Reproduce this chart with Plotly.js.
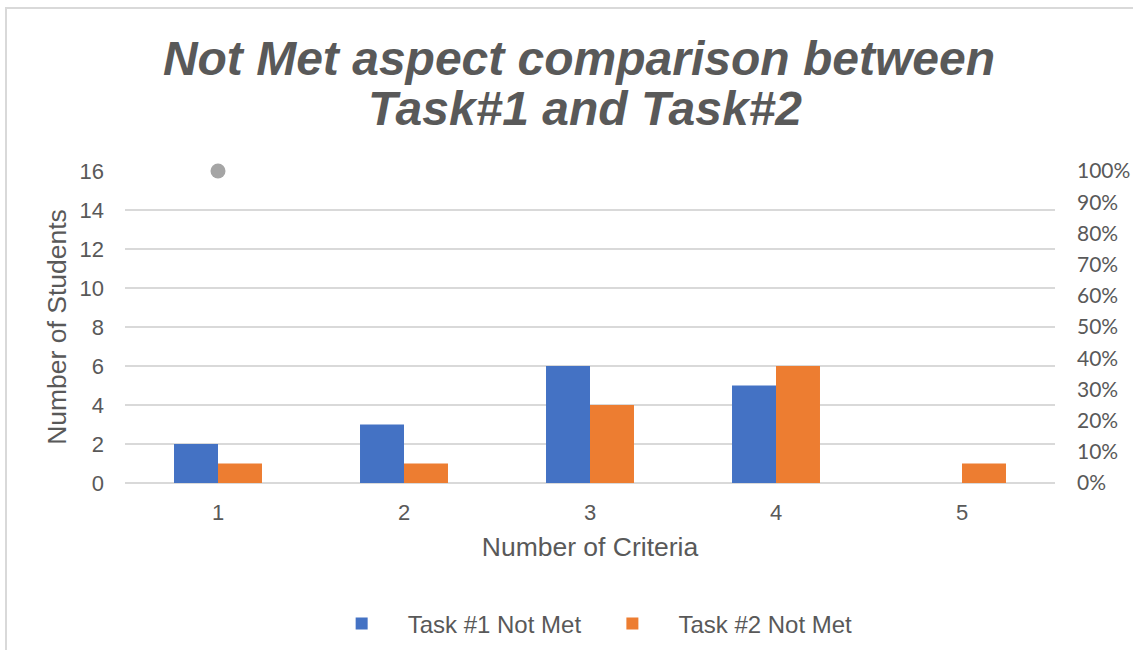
<!DOCTYPE html>
<html>
<head>
<meta charset="utf-8">
<script src="https://cdn.plot.ly/plotly-3.0.1.min.js"></script>
<style>
html,body{margin:0;padding:0;background:#fff;}
#chart{width:1133px;height:650px;}
#frame{position:absolute;left:5px;top:7px;width:1200px;height:700px;border-left:2px solid #d9d9d9;border-top:2px solid #d9d9d9;pointer-events:none;}
</style>
</head>
<body>
<div id="chart"></div>
<div id="frame"></div>
<script>
const categories = ['1', '2', '3', '4', '5'];
const task1NotMet = [2, 3, 6, 5, 0];
const task2NotMet = [1, 1, 4, 6, 1];
const markerX = ['1'];
const markerPct = [1.0];
const leftTicks = [0, 2, 4, 6, 8, 10, 12, 14, 16];
const rightTicks = [0, 0.1, 0.2, 0.3, 0.4, 0.5, 0.6, 0.7, 0.8, 0.9, 1.0];
const titleLine1 = 'Not Met aspect comparison between';
const titleLine2 = 'Task#1 and Task#2';

const gray = '#595959';
const font = 'Liberation Sans, Arial, sans-serif';

const data = [
  {type: 'bar', name: 'Task #1 Not Met', x: categories, y: task1NotMet, marker: {color: '#4472C4'}, hoverinfo: 'y'},
  {type: 'bar', name: 'Task #2 Not Met', x: categories, y: task2NotMet, marker: {color: '#ED7D31'}, hoverinfo: 'y'},
  {type: 'scatter', mode: 'markers', x: markerX, y: markerPct, yaxis: 'y2', showlegend: false,
   marker: {color: '#A5A5A5', size: 15}, cliponaxis: false}
];

const layout = {
  width: 1133, height: 650,
  margin: {l: 125, r: 78, t: 171, b: 167, autoexpand: false},
  paper_bgcolor: '#fff', plot_bgcolor: '#fff',
  font: {family: font, color: gray},
  title: {
    text: '<b><i>' + titleLine1 + '</i></b>',
    font: {family: font, size: 48, color: gray},
    x: 0.511, xanchor: 'center', y: 1 - 58 / 650, yanchor: 'middle', yref: 'container'
  },
  annotations: [{
    text: '<b><i>' + titleLine2 + '</i></b>', showarrow: false,
    xref: 'paper', yref: 'paper', x: (585 - 125) / 930, y: (483 - 108) / 312,
    xanchor: 'center', yanchor: 'middle',
    font: {family: font, size: 48, color: gray}
  }],
  barmode: 'group', bargap: 0.527, bargroupgap: 0,
  xaxis: {
    type: 'category', showgrid: false, showline: false, zeroline: false,
    tickfont: {size: 22, color: gray},
    ticks: '', ticklabelstandoff: 14,
    title: {text: 'Number of Criteria', font: {size: 26.5, color: gray}, standoff: 13}
  },
  yaxis: {
    range: [0, 16], tickvals: leftTicks, showgrid: true, gridcolor: '#d9d9d9', gridwidth: 1.5,
    zeroline: true, zerolinecolor: '#d9d9d9', zerolinewidth: 1.5, showline: false,
    tickfont: {size: 22, color: gray}, ticks: '', ticklabelstandoff: 20,
    title: {text: 'Number of Students', font: {size: 26.5, color: gray}, standoff: 5}
  },
  yaxis2: {
    overlaying: 'y', side: 'right', range: [0, 1], tickvals: rightTicks, tickformat: '.0%',
    showgrid: false, zeroline: false, showline: false,
    tickfont: {family: 'Lato, Open Sans, sans-serif', size: 21, color: gray}, ticks: '', ticklabelstandoff: 21
  },
  legend: {
    orientation: 'h', x: 0.205, xanchor: 'left', yref: 'container', y: 1 - 624 / 650, yanchor: 'middle',
    font: {size: 24, color: gray}, itemwidth: 82, tracegroupgap: 0
  },
  showlegend: true
};

Plotly.newPlot('chart', data, layout, {displayModeBar: false, staticPlot: true});
</script>
</body>
</html>
